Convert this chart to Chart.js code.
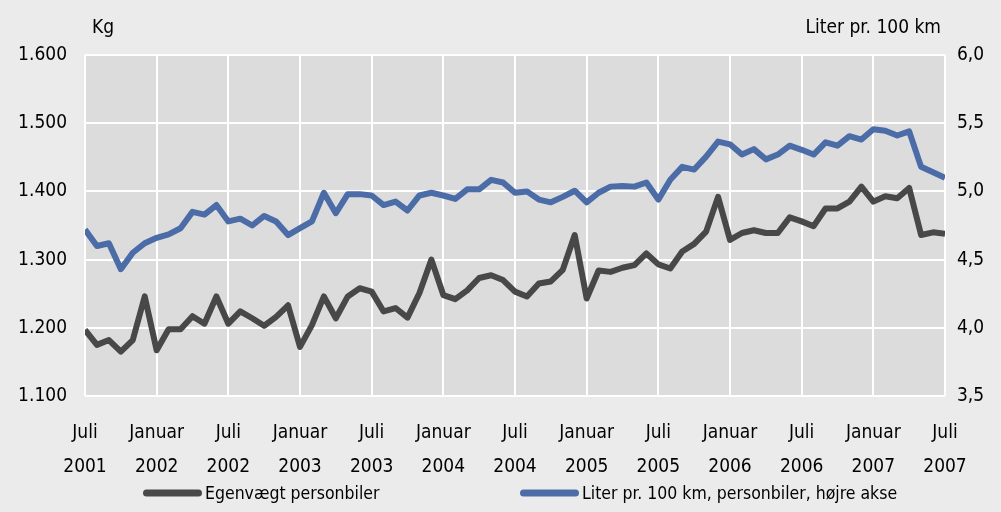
<!DOCTYPE html>
<html><head><meta charset="utf-8">
<script src="https://cdn.jsdelivr.net/npm/chart.js@4.4.1/dist/chart.umd.min.js"></script>
<style>html,body{margin:0;padding:0;background:#ebebeb;}#wrap{width:1001px;height:512px;}</style>
</head><body><div id="wrap"><canvas id="c" width="1001" height="512"></canvas></div>
<script>
const xTickLabels = [["Juli","2001"],["Januar","2002"],["Juli","2002"],["Januar","2003"],["Juli","2003"],["Januar","2004"],["Juli","2004"],["Januar","2005"],["Juli","2005"],["Januar","2006"],["Juli","2006"],["Januar","2007"],["Juli","2007"]];
const seriesNames = ["Egenvægt personbiler","Liter pr. 100 km, personbiler, højre akse"];
const leftTitle = "Kg";
const rightTitle = "Liter pr. 100 km";
// monthly, Juli 2001 .. Juli 2007
const egenvaegt = [1197,1175,1182,1165,1182,1246,1167,1198,1198,1217,1206,1246,1206,1224,1214,1203,1216,1233,1172,1204,1246,1214,1246,1258,1253,1224,1229,1215,1251,1300,1248,1242,1255,1273,1277,1270,1253,1246,1265,1268,1285,1336,1243,1284,1282,1288,1292,1309,1293,1287,1312,1323,1341,1392,1329,1339,1343,1339,1339,1362,1356,1349,1375,1375,1385,1407,1385,1393,1390,1405,1336,1340,1338];
const literPr100 = [4.72,4.60,4.62,4.43,4.55,4.62,4.66,4.685,4.73,4.85,4.83,4.90,4.78,4.80,4.75,4.82,4.78,4.68,4.73,4.78,4.99,4.84,4.98,4.98,4.97,4.90,4.925,4.86,4.97,4.99,4.97,4.945,5.015,5.015,5.085,5.065,4.99,5.0,4.94,4.92,4.96,5.005,4.92,4.99,5.035,5.04,5.035,5.065,4.94,5.085,5.18,5.16,5.255,5.365,5.345,5.27,5.31,5.235,5.27,5.335,5.305,5.27,5.36,5.335,5.405,5.38,5.455,5.445,5.41,5.44,5.18,5.14,5.10];

const FONT = "'Liberation Sans Narrow','DejaVu Sans Condensed',sans-serif";
const GRAY = '#484848', BLUE = '#4c6ca8';

const toXY = arr => arr.map((v,i)=>({x:i,y:v}));

const bgPlugin = {
  id:'bg',
  beforeDraw(chart){
    const {ctx, chartArea:a} = chart;
    ctx.save();
    ctx.fillStyle = '#ebebeb';
    ctx.fillRect(0,0,chart.width,chart.height);
    ctx.fillStyle = '#dcdcdc';
    ctx.fillRect(a.left,a.top,a.right-a.left,a.bottom-a.top);
    ctx.restore();
  },
  afterDraw(chart){
    const {ctx} = chart;
    ctx.save();
    ctx.font = '19px ' + FONT;
    ctx.fillStyle = '#000';
    ctx.textBaseline = 'middle';
    ctx.textAlign = 'left';
    ctx.fillText(leftTitle, 92, 28);
    ctx.textAlign = 'right';
    ctx.fillText(rightTitle, 941, 28);
    // legend
    ctx.font = '17.5px ' + FONT;
    const items = [{x:143, c:GRAY, t:seriesNames[0]},{x:520, c:BLUE, t:seriesNames[1]}];
    items.forEach(it=>{
      ctx.strokeStyle = it.c; ctx.lineWidth = 7; ctx.lineCap='round';
      ctx.beginPath(); ctx.moveTo(it.x+3.5,493); ctx.lineTo(it.x+55.5,493); ctx.stroke();
      ctx.textAlign='left'; ctx.fillStyle='#000';
      ctx.fillText(it.t, it.x+62, 494);
    });
    ctx.restore();
  }
};

new Chart(document.getElementById('c'), {
  type:'line',
  data:{datasets:[
    {label:seriesNames[0], data:toXY(egenvaegt), borderColor:GRAY, backgroundColor:GRAY, borderWidth:6, pointRadius:0, tension:0, yAxisID:'y', borderJoinStyle:'round', borderCapStyle:'butt'},
    {label:seriesNames[1], data:toXY(literPr100), borderColor:BLUE, backgroundColor:BLUE, borderWidth:6, pointRadius:0, tension:0, yAxisID:'y2', borderJoinStyle:'round', borderCapStyle:'butt'}
  ]},
  options:{
    responsive:false, animation:false, devicePixelRatio:1,
    layout:{padding:{top:55,left:0,right:0,bottom:0}},
    plugins:{legend:{display:false}, tooltip:{enabled:false}},
    scales:{
      x:{type:'linear', min:0, max:72, border:{display:false},
         grid:{color:'#ffffff', lineWidth:2, drawTicks:false},
         ticks:{stepSize:6, autoSkip:false, maxRotation:0, padding:20, color:'#000', font:{family:FONT,size:19, lineHeight:1.8},
           callback:(v)=> (v%6===0 ? xTickLabels[v/6] : '')},
         afterFit:s=>{s.height = 116;}},
      y:{position:'left', min:1100, max:1600, border:{display:false},
         grid:{color:'#ffffff', lineWidth:2, drawTicks:false},
         ticks:{stepSize:100, padding:18, color:'#000', font:{family:FONT,size:19},
           callback:v=>String(v).replace(/\B(?=(\d{3})+$)/,'.')},
         afterFit:s=>{s.width = 85;}},
      y2:{position:'right', min:3.5, max:6.0, border:{display:false},
         grid:{display:false, drawTicks:false},
         ticks:{stepSize:0.5, padding:12, color:'#000', font:{family:FONT,size:19},
           callback:v=>v.toFixed(1).replace('.',',')},
         afterFit:s=>{s.width = 56;}}
    }
  },
  plugins:[bgPlugin]
});
</script></body></html>
